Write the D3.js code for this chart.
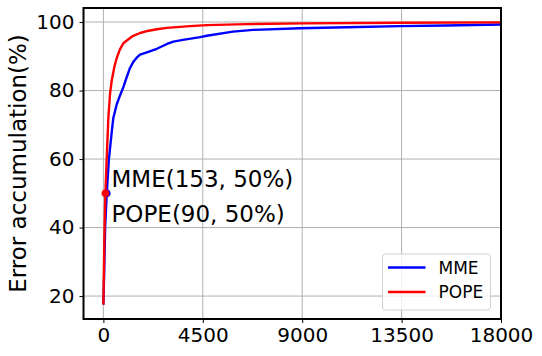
<!DOCTYPE html>
<html>
<head>
<meta charset="utf-8">
<script src="https://cdn.jsdelivr.net/npm/d3@7"></script>
<style>
  body { margin: 0; background: #fff; }
  svg { display: block; font-family: "DejaVu Sans", sans-serif; }
</style>
</head>
<body>
<div id="chart"></div>
<script>
// cumulative error curves
const mmeX = [0, 40, 80, 153, 250, 380, 450, 605, 750, 905, 1060, 1200, 1350, 1510, 1660, 2000, 2420, 2880, 3170, 3600, 4380, 4680, 5870, 6780, 8900, 11000, 13430, 15500, 18000];
const mmeY = [17.5, 28, 40, 50, 60, 68, 72, 76, 78.5, 81, 84, 86.5, 88.3, 89.6, 90.5, 91.2, 92.2, 93.6, 94.3, 94.8, 95.6, 96.0, 97.2, 97.7, 98.2, 98.5, 98.8, 99.0, 99.3];
const popeX = [0, 30, 60, 90, 150, 225, 300, 380, 500, 605, 750, 905, 1060, 1300, 1660, 2000, 2420, 2870, 3920, 4680, 6500, 9000, 13500, 18000];
const popeY = [17.5, 30, 42, 50, 60, 72, 79, 83, 87, 89.5, 92, 93.8, 94.6, 95.8, 96.8, 97.4, 97.9, 98.3, 98.8, 99.1, 99.4, 99.6, 99.8, 99.9];

const seriesNames = ['MME', 'POPE'];
const seriesColors = ['#0000ff', '#ff0000'];
const halfPoints = [[153, 50], [90, 50]];
const annotations = ['MME(153, 50%)', 'POPE(90, 50%)'];

const xTicks = [0, 4500, 9000, 13500, 18000];
const yTicks = [20, 40, 60, 80, 100];

const W = 542, H = 356;
const margin = {top: 8, right: 41, bottom: 37, left: 83.5};
const width = W - margin.left - margin.right,
    height = H - margin.top - margin.bottom;

const x = d3.scaleLinear().domain([-900, 18000]).range([0, width]);
const y = d3.scaleLinear().domain([13.3, 104.1]).range([height, 0]);

const svg = d3.select('#chart').append('svg')
    .attr('width', W)
    .attr('height', H);

svg.append('defs').append('clipPath').attr('id', 'clip')
    .append('rect').attr('width', width).attr('height', height);

const main = svg.append('g')
    .attr('transform', 'translate(' + margin.left + ',' + margin.top + ')');

// grid
main.append('g').selectAll('line')
    .data(xTicks).enter().append('line')
    .attr('x1', d => x(d)).attr('x2', d => x(d))
    .attr('y1', 0).attr('y2', height)
    .attr('stroke', '#b0b0b0').attr('stroke-width', 1);
main.append('g').selectAll('line')
    .data(yTicks).enter().append('line')
    .attr('x1', 0).attr('x2', width)
    .attr('y1', d => y(d)).attr('y2', d => y(d))
    .attr('stroke', '#b0b0b0').attr('stroke-width', 1);

// curves
const series = [
    mmeX.map((v, i) => [v, mmeY[i]]),
    popeX.map((v, i) => [v, popeY[i]])
];
const line = d3.line().x(d => x(d[0])).y(d => y(d[1]));
const plot = main.append('g').attr('clip-path', 'url(#clip)');
series.forEach((pts, i) => {
    plot.append('path')
        .datum(pts)
        .attr('d', line)
        .attr('fill', 'none')
        .attr('stroke', seriesColors[i])
        .attr('stroke-width', 2.4)
        .attr('stroke-linejoin', 'round');
});

// 50% markers
halfPoints.forEach((p, i) => {
    main.append('circle')
        .attr('cx', x(p[0])).attr('cy', y(p[1]))
        .attr('r', 3.8)
        .attr('fill', seriesColors[i]);
});

main.selectAll('text.ann')
    .data(annotations).enter().append('text')
    .attr('class', 'ann')
    .attr('x', 28)
    .attr('y', (d, i) => y(50) - 6.5 + i * 35)
    .attr('font-size', 23)
    .attr('fill', '#000')
    .text(d => d);

// axes
const xAxis = d3.axisBottom(x).tickValues(xTicks).tickFormat(d3.format('d')).tickSize(4).tickPadding(5);
const yAxis = d3.axisLeft(y).tickValues(yTicks).tickFormat(d3.format('d')).tickSize(4).tickPadding(5);

const gx = main.append('g')
    .attr('transform', 'translate(0,' + height + ')')
    .call(xAxis);
const gy = main.append('g').call(yAxis);

[gx, gy].forEach(g => {
    g.select('.domain').remove();
    g.selectAll('.tick line').attr('stroke', '#000').attr('stroke-width', 1);
    g.selectAll('.tick text')
        .attr('font-size', 20)
        .attr('font-family', '"DejaVu Sans", sans-serif')
        .attr('fill', '#000');
});

// frame
main.append('rect')
    .attr('width', width).attr('height', height)
    .attr('fill', 'none')
    .attr('stroke', '#000')
    .attr('stroke-width', 2);

// y label
svg.append('text')
    .attr('transform', 'translate(26,' + (margin.top + height / 2) + ') rotate(-90)')
    .attr('text-anchor', 'middle')
    .attr('font-size', 23)
    .text('Error accumulation(%)');

// legend
const lg = main.append('g')
    .attr('transform', 'translate(' + (width - 118.5) + ',' + (height - 65) + ')');
lg.append('rect')
    .attr('width', 108).attr('height', 56)
    .attr('rx', 3)
    .attr('fill', '#fff').attr('fill-opacity', 0.8)
    .attr('stroke', '#d0d0d0');
seriesNames.forEach((name, i) => {
    const row = lg.append('g').attr('transform', 'translate(0,' + (13.5 + i * 24.5) + ')');
    row.append('line')
        .attr('x1', 5.5).attr('x2', 43)
        .attr('stroke', seriesColors[i]).attr('stroke-width', 2.4);
    row.append('text')
        .attr('x', 56).attr('y', 6)
        .attr('font-size', 17)
        .text(name);
});
</script>
</body>
</html>
